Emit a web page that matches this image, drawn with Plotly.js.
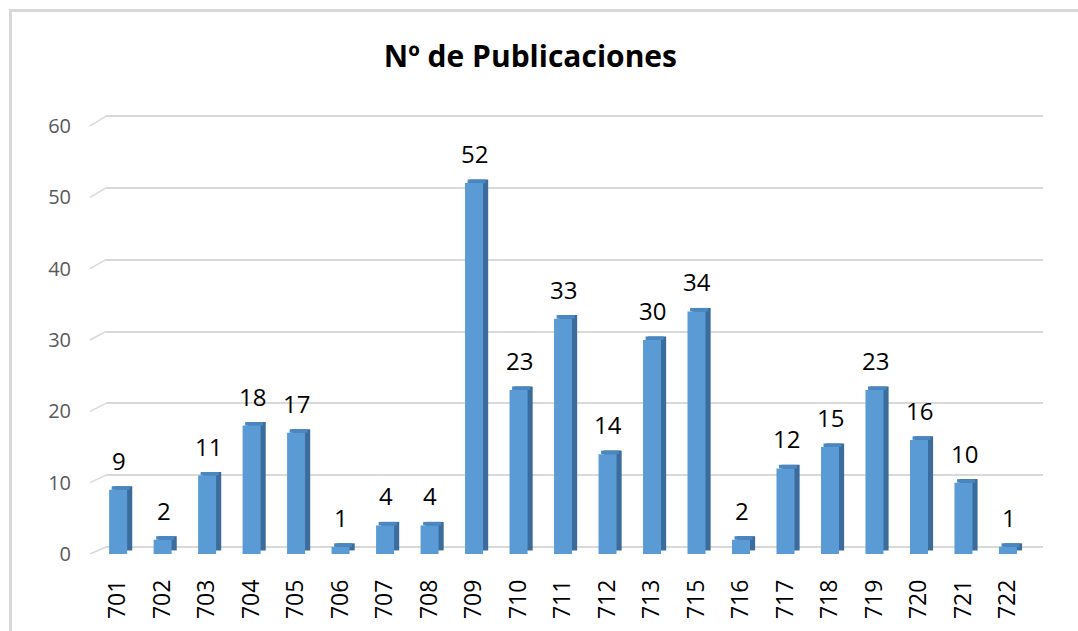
<!DOCTYPE html>
<html>
<head>
<meta charset="utf-8">
<script src="https://cdn.plot.ly/plotly-3.0.1.min.js"></script>
<style>
  html, body { margin: 0; padding: 0; background: #fff; }
  #chart { position: absolute; left: 0; top: 0; width: 1078px; height: 631px; }
  #frame { position: absolute; left: 9px; top: 9px; width: 1100px; height: 700px;
           border-left: 3px solid #d9d9d9; border-top: 3px solid #d9d9d9; pointer-events: none; }
</style>
</head>
<body>
<div id="chart"></div>
<div id="frame"></div>
<script>
// ---- data ----
const categories = ["701","702","703","704","705","706","707","708","709","710","711",
                    "712","713","715","716","717","718","719","720","721","722"];
const publicaciones = [9, 2, 11, 18, 17, 1, 4, 4, 52, 23, 33, 14, 30, 34, 2, 12, 15, 23, 16, 10, 1];
const yTicks = [0, 10, 20, 30, 40, 50, 60];
const titleText = "Nº de Publicaciones";

// ---- style ----
const FONT = "Open Sans, Liberation Sans, Arial, sans-serif";
const frontColor = "#5B9BD5";
const sideColor  = "#3B6C9C";
const topColor   = "#4A86C0";
const depth = 0.5;          // pseudo-3D depth in y units
const barW = 0.405;
const frontOff = -0.2;

const side = {
  type: "bar", x: categories, y: publicaciones, base: depth,
  width: barW, offset: frontOff + 0.115,
  marker: { color: sideColor, line: { width: 0 } },
  hoverinfo: "skip", showlegend: false
};
const topFace = {
  type: "bar", x: categories, y: publicaciones.map(() => depth), base: publicaciones,
  width: barW, offset: frontOff + 0.058,
  marker: { color: topColor, line: { width: 0 } },
  hoverinfo: "skip", showlegend: false
};
const front = {
  type: "bar", x: categories, y: publicaciones,
  width: barW, offset: frontOff,
  marker: { color: frontColor, line: { width: 0 } },
  hoverinfo: "skip", showlegend: false
};
// invisible trace to activate the back-plane grid axis
const gridHolder = {
  type: "scatter", x: categories, y: publicaciones, yaxis: "y2",
  mode: "markers", marker: { opacity: 0 }, hoverinfo: "skip", showlegend: false
};

const annotations = categories.map((c, i) => ({
  x: i, y: publicaciones[i], xref: "x", yref: "y",
  text: String(publicaciones[i]), showarrow: false,
  xanchor: "center", yanchor: "bottom", yshift: 11, xshift: 1,
  font: { family: FONT, size: 24, color: "#000000" }
}));

// diagonal stubs of the gridlines (floor/wall perspective)
const y2Front = t => -0.975 + 0.993 * t;
const shapes = yTicks.map(t => ({
  type: "line", xref: "paper", yref: "y2",
  x0: -0.0171, x1: 0, y0: y2Front(t), y1: t,
  line: { color: "#d9d9d9", width: 1.5 }
}));

const layout = {
  width: 1078, height: 631,
  margin: { l: 106, r: 35, t: 110, b: 77 },
  paper_bgcolor: "rgba(0,0,0,0)", plot_bgcolor: "rgba(0,0,0,0)",
  barmode: "overlay",
  title: {
    text: "<b>" + titleText + "</b>",
    x: 0.492, xanchor: "center", y: 0.911, yanchor: "middle",
    font: { family: FONT, size: 30, color: "#000" }
  },
  xaxis: {
    type: "category", range: [-0.27, 20.79],
    showgrid: false, zeroline: false, showline: false,
    ticks: "", tickangle: -90, ticklabelstandoff: 20,
    tickfont: { family: FONT, size: 23, color: "#000" }
  },
  yaxis: {
    range: [0, 62.25], showgrid: false, zeroline: false, showline: false,
    tickvals: yTicks, ticktext: yTicks.map(String), ticks: "",
    ticklabelstandoff: 34,
    tickfont: { family: FONT, size: 20, color: "#595959" }
  },
  yaxis2: {
    overlaying: "y", range: [-0.975, 60.84],
    showgrid: true, gridcolor: "#d9d9d9", gridwidth: 1.5,
    tickvals: yTicks, showticklabels: false, zeroline: false, showline: false, ticks: ""
  },
  annotations: annotations,
  shapes: shapes
};

Plotly.newPlot("chart", [gridHolder, side, topFace, front], layout, { displayModeBar: false });
</script>
</body>
</html>
